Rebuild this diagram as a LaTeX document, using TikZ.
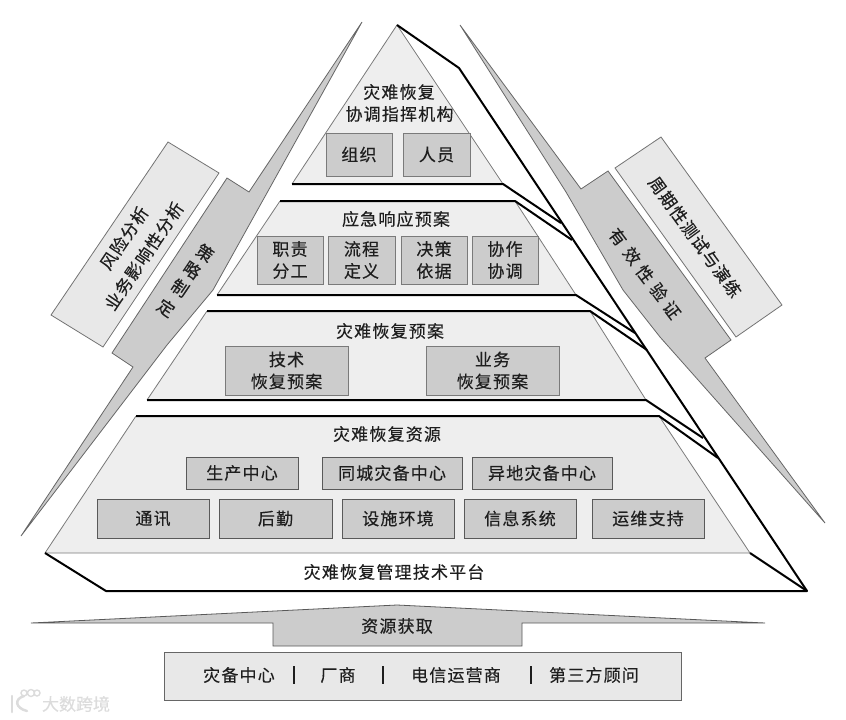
\documentclass[tikz,border=0pt]{standalone}
\usepackage{fontspec}
\newfontfamily\cjk[LetterSpace=7,FakeBold=0.25]{Noto Sans CJK SC}
\newfontfamily\cjkw[FakeBold=0.5]{Noto Sans CJK SC}
\definecolor{tier}{HTML}{EEEEEE}
\definecolor{cell}{HTML}{CCCCCC}
\definecolor{side}{HTML}{E8E8E8}
\definecolor{edge}{HTML}{7A7A7A}
\definecolor{ink}{HTML}{1E1E1E}
\definecolor{wm}{HTML}{DCDCDC}
\tikzset{
  txt/.style={text=ink,font=\cjk\fontsize{17}{22}\selectfont,inner sep=0pt,align=center},
  cellbox/.style={draw=edge,line width=1pt,fill=cell,inner sep=0pt,outer sep=0pt,text=ink,
    font=\cjk\fontsize{17}{22}\selectfont,align=center},
  darkbox/.style={cellbox,draw=black!65},
  tierfill/.style={fill=tier,draw=none},
  thin edge/.style={draw=edge,line width=0.8pt},
  heavy/.style={draw=black,line width=2pt,line join=round},
  strip/.style={fill=cell,draw=black!60,line width=0.8pt,line join=miter},
  panel/.style={fill=side,draw=black!55,line width=0.8pt},
}
\begin{document}
\begin{tikzpicture}[x=1pt,y=-1pt]
\useasboundingbox (0,0) rectangle (846,720);
% named corners
\coordinate (apex) at (397,25);
\coordinate (kink) at (459,68);
\coordinate (far) at (807,591);
\coordinate (t1l) at (292,184); \coordinate (t1r) at (503,184); \coordinate (t1e) at (561,223);
\coordinate (t2tl) at (280,201); \coordinate (t2tr) at (515,201); \coordinate (t2te) at (572,240);
\coordinate (t2bl) at (217,295); \coordinate (t2br) at (576,295); \coordinate (t2be) at (635,333);
\coordinate (t3tl) at (207,311); \coordinate (t3tr) at (590,311); \coordinate (t3te) at (647,350);
\coordinate (t3bl) at (147,400); \coordinate (t3br) at (646,400); \coordinate (t3be) at (703,438);
\coordinate (t4tl) at (136,416); \coordinate (t4tr) at (659,416); \coordinate (t4te) at (718,458);
\coordinate (t4bl) at (45,553);  \coordinate (t4br) at (750,553);
\coordinate (pl) at (106,591);
% platform
\fill[white] (t4bl) -- (pl) -- (far) -- (t4br) -- cycle;
% tiers
\fill[tierfill] (apex) -- (t1r) -- (t1l) -- cycle;
\fill[tierfill] (t2tl) -- (t2tr) -- (t2br) -- (t2bl) -- cycle;
\fill[tierfill] (t3tl) -- (t3tr) -- (t3br) -- (t3bl) -- cycle;
\fill[tierfill] (t4tl) -- (t4tr) -- (t4br) -- (t4bl) -- cycle;
\draw[thin edge] (t1l) -- (apex) -- (t1r);
\draw[thin edge] (t2bl) -- (t2tl) (t2tr) -- (t2br);
\draw[thin edge] (t3bl) -- (t3tl) (t3tr) -- (t3br);
\draw[thin edge] (t4bl) -- (t4tl) (t4tr) -- (t4br) -- (t4bl);
% heavy outline
\draw[heavy] (apex) -- (kink) -- (far) -- (pl) -- (t4bl);
\draw[heavy] (far) -- (t4br);
\draw[heavy] (t1l) -- (t1r) -- (t1e);
\draw[heavy] (t2tl) -- (t2tr) -- (t2te);
\draw[heavy] (t2bl) -- (t2br) -- (t2be);
\draw[heavy] (t3tl) -- (t3tr) -- (t3te);
\draw[heavy] (t3bl) -- (t3br) -- (t3be);
\draw[heavy] (t4tl) -- (t4tr) -- (t4te);
% side strips
\draw[strip] (362,22) -- (249,192) -- (227,178) -- (112,353) -- (133,367) -- (21,536)
   -- (167,345) -- (213,290) -- cycle;
\draw[strip] (460,25) -- (581,189) -- (608,171) -- (731,340) -- (705,358) -- (825,523)
   -- (660,337) -- (623,290) -- (566,192) -- cycle;
% side panels
\draw[panel] (168,142) -- (219,173) -- (103,347) -- (51,315) -- cycle;
\draw[panel] (661,137) -- (782,305) -- (736,337) -- (615,168) -- cycle;
% side texts
\node[txt,rotate=56] (riskA) at (124,238) {风险分析};
\node[txt,rotate=56] (riskB) at (144,256) {业务影响性分析};
\node[txt,rotate=-34] (ce) at (205,253) {策};
\node[txt,rotate=-34] (lue) at (192,270) {略};
\node[txt,rotate=-34] (zhi) at (180,288) {制};
\node[txt,rotate=-34] (ding) at (166,308) {定};
\node[txt,rotate=-53] (you) at (618,237) {有};
\node[txt,rotate=-53] (xiao) at (632,256) {效};
\node[txt,rotate=-53] (xing) at (645,274) {性};
\node[txt,rotate=-53] (yan) at (659,292) {验};
\node[txt,rotate=-53] (zheng) at (672,310) {证};
\node[txt,rotate=-54] (test) at (695,237) {周期性测试与演练};
% tier 1
\node[txt] (t1a) at (399,92) {灾难恢复};
\node[txt] (t1b) at (399.5,114) {协调指挥机构};
\node[cellbox,minimum width=66pt,minimum height=43pt] (org) at (359,154.5) {组织};
\node[cellbox,minimum width=67pt,minimum height=43pt] (ppl) at (436.5,154.5) {人员};
% tier 2
\node[txt] (t2) at (396,219) {应急响应预案};
\node[cellbox,minimum width=66pt,minimum height=48pt] (b21) at (290,260) {职责\\分工};
\node[cellbox,minimum width=67pt,minimum height=48pt] (b22) at (361.5,260) {流程\\定义};
\node[cellbox,minimum width=66pt,minimum height=48pt] (b23) at (434,260) {决策\\依据};
\node[cellbox,minimum width=66pt,minimum height=48pt] (b24) at (505,260) {协作\\协调};
% tier 3
\node[txt] (t3) at (390,331) {灾难恢复预案};
\node[cellbox,minimum width=123pt,minimum height=49pt] (b31) at (286.5,370.5) {技术\\恢复预案};
\node[cellbox,minimum width=133pt,minimum height=49pt] (b32) at (492.5,370.5) {业务\\恢复预案};
% tier 4
\node[txt] (t4) at (387,434) {灾难恢复资源};
\node[darkbox,minimum width=112pt,minimum height=32pt] (b41) at (242,473) {生产中心};
\node[darkbox,minimum width=140pt,minimum height=32pt] (b42) at (392,473) {同城灾备中心};
\node[darkbox,minimum width=140pt,minimum height=32pt] (b43) at (542,473) {异地灾备中心};
\node[darkbox,minimum width=112pt,minimum height=39pt] (b51) at (153,518.5) {通讯};
\node[darkbox,minimum width=113pt,minimum height=39pt] (b52) at (275.5,518.5) {后勤};
\node[darkbox,minimum width=112pt,minimum height=39pt] (b53) at (398,518.5) {设施环境};
\node[darkbox,minimum width=112pt,minimum height=39pt] (b54) at (520,518.5) {信息系统};
\node[darkbox,minimum width=112pt,minimum height=39pt] (b55) at (648,518.5) {运维支持};
% platform
\node[txt] (plat) at (394,572) {灾难恢复管理技术平台};
% resource arrow
\draw[fill=cell,draw=black!65,line width=0.8pt] (31,623) -- (397,605) -- (765,623) -- (522,623)
  -- (522,646) -- (273,646) -- (273,623) -- cycle;
\node[txt] (get) at (397,626) {资源获取};
% supplier box
\node[draw=black!60,line width=0.8pt,fill=side,minimum width=517pt,minimum height=48pt,inner sep=0pt]
  (sup) at (422.5,676) {};
\node[txt] (s1) at (239,675) {灾备中心};
\node[txt] (s2) at (338,675) {厂商};
\node[txt] (s3) at (456,675) {电信运营商};
\node[txt] (s4) at (594,675) {第三方顾问};
\coordinate (c1a) at (294,666); \coordinate (c1b) at (294,684);
\coordinate (c2a) at (383,666); \coordinate (c2b) at (383,684);
\coordinate (c3a) at (531,666); \coordinate (c3b) at (531,684);
\draw[line width=1.6pt,ink] (c1a) -- (c1b) (c2a) -- (c2b) (c3a) -- (c3b);
% watermark
\draw[wm,line width=2.5pt,line cap=round] (12,696) -- (12,712);
\draw[wm,line width=2.5pt,line cap=round] (24,696) .. controls (14,699) and (15,708) .. (27,711);
\draw[wm,line width=1.4pt] (24,693) circle (3) (31,693) circle (3.5) (37,693) circle (3);
\node[font=\cjkw\fontsize{17}{17}\selectfont,text=wm,inner sep=0pt] (wmt) at (76,704) {大数跨境};
\end{tikzpicture}
\end{document}
